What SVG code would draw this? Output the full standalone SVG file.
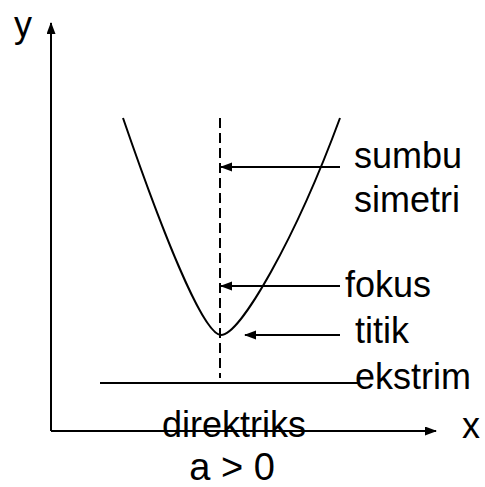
<svg xmlns="http://www.w3.org/2000/svg" width="485" height="487" viewBox="0 0 485 487">
<style>
.ln{stroke:#000;stroke-width:2;fill:none}
.t{font-family:"Liberation Sans",Arial,sans-serif;font-size:36px;fill:#000}
</style>
<defs>
<marker id="ah" markerUnits="userSpaceOnUse" markerWidth="12" markerHeight="10" refX="11" refY="4.5" orient="auto">
<path d="M0,0 L12,4.5 L0,9 z" fill="#000"/>
</marker>
</defs>
<rect width="485" height="487" fill="#fff"/>
<g id="axes">
<line class="ln" x1="51" y1="431" x2="51" y2="23" marker-end="url(#ah)"/>
<line class="ln" x1="51" y1="431" x2="436" y2="431" marker-end="url(#ah)"/>
<text class="t" x="14" y="37">y</text>
<text class="t" x="462" y="438">x</text>
</g>
<g id="parabola">
<path class="ln" d="M123,118 C165,240 204,335 221,335 C240,335 295,240 340,118"/>
</g>
<g id="sumbu-simetri">
<line class="ln" x1="220" y1="118" x2="220" y2="378" stroke-dasharray="10 5"/>
<text class="t" x="354" y="168">sumbu</text>
<text class="t" x="354" y="212">simetri</text>
</g>
<g id="fokus">
<text class="t" x="345" y="297">fokus</text>
</g>
<g id="titik-ekstrim">
<text class="t" x="355" y="343">titik</text>
<text class="t" x="355" y="389">ekstrim</text>
</g>
<g id="direktriks">
<line class="ln" x1="100" y1="383" x2="358" y2="383"/>
<text class="t" x="162" y="437">direktriks</text>
</g>
<g id="caption">
<text class="t" x="232" y="480" text-anchor="middle" style="font-size:38px">a &gt; 0</text>
</g>
<g id="connectors">
<line class="ln" x1="340" y1="167" x2="221" y2="167" marker-end="url(#ah)"/>
<line class="ln" x1="340" y1="286" x2="221" y2="286" marker-end="url(#ah)"/>
<line class="ln" x1="340" y1="335" x2="245" y2="335" marker-end="url(#ah)"/>
</g>
</svg>
